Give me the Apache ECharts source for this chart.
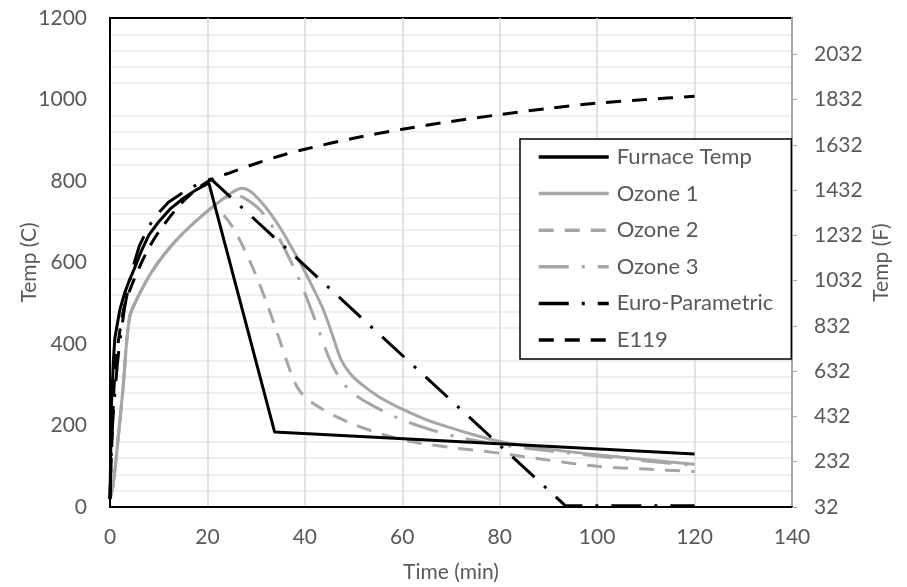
<!DOCTYPE html>
<html>
<head>
<meta charset="utf-8">
<script src="https://cdn.jsdelivr.net/npm/echarts@6/dist/echarts.min.js"></script>
<style>html,body{margin:0;padding:0;background:#fff;}#c{width:907px;height:587px;}</style>
</head>
<body>
<div id="c"></div>
<script>
var seriesNames = ['Furnace Temp', 'Ozone 1', 'Ozone 2', 'Ozone 3', 'Euro-Parametric', 'E119'];
var xTicks = [0, 20, 40, 60, 80, 100, 120, 140];
var leftTicks = [0, 200, 400, 600, 800, 1000, 1200];
var rightTicks = [32, 232, 432, 632, 832, 1032, 1232, 1432, 1632, 1832, 2032];

var furnaceTime = [0, 0.3, 0.7, 1, 2, 3, 4, 5, 6.5, 8, 10, 12.5, 15, 17.5, 20.3, 33.8, 120];
var furnaceTemp = [20, 250, 360, 415, 483, 525, 557, 585, 630, 668, 700, 733, 757, 777, 795, 184, 130];

var ozone1Time = [0, 0.5, 1, 1.7, 2.7, 3.4, 4.1, 5, 6, 7, 8, 10, 12.5, 15, 17.5, 20, 22, 24, 25.5, 27, 28.5, 30, 32, 34, 36, 38, 40, 42, 44, 46, 47.3, 48.5, 50, 52, 55, 60, 65, 70, 75, 80, 90, 100, 110, 120];
var ozone1Temp = [20, 45, 90, 172, 295, 402, 470, 497, 522, 545, 566, 602, 640, 672, 700, 726, 745, 763, 775, 782, 777, 762, 735, 702, 664, 622, 578, 530, 478, 410, 365, 340, 318, 298, 272, 240, 214, 194, 176, 161, 142, 128, 116, 105];

var ozone2Time = [0, 0.5, 1, 1.7, 2.7, 3.4, 4.1, 5, 6, 7, 8, 10, 12.5, 15, 17.5, 20, 21.5, 23.3, 25, 27, 29.8, 32.2, 35.3, 36.5, 37.5, 38.5, 40, 42, 44, 46, 50, 56, 62, 70, 80, 90, 100, 110, 120];
var ozone2Temp = [20, 45, 90, 172, 295, 402, 470, 497, 522, 545, 566, 602, 640, 672, 700, 726, 738, 717, 690, 647, 573, 500, 393, 350, 318, 293, 270, 252, 237, 224, 203, 178, 160, 146, 132, 115, 100, 93, 87];

var ozone3Time = [0, 0.5, 1, 1.7, 2.7, 3.4, 4.1, 5, 6, 7, 8, 10, 12.5, 15, 17.5, 20, 22, 24, 25.5, 27.3, 30, 32, 34, 36, 38, 40, 42, 44, 45, 46, 47.5, 49.5, 52, 55, 58, 61, 66, 72, 80, 90, 100, 110, 120];
var ozone3Temp = [20, 45, 90, 172, 295, 402, 470, 497, 522, 545, 566, 602, 640, 672, 700, 726, 745, 760, 766, 760, 738, 712, 675, 630, 580, 525, 462, 395, 365, 340, 310, 283, 262, 242, 224, 209, 189, 170, 153, 138, 125, 113, 102];

var euroTime = [0, 0.3, 0.6, 1, 1.5, 2, 3, 4, 5, 6, 8, 10, 12, 15, 18, 20.7, 93.5, 120];
var euroTemp = [20, 150, 220, 280, 350, 405, 490, 552, 600, 640, 690, 722, 748, 772, 792, 805, 3, 3];

var e119Time = [0, 1, 2, 3, 5, 7.5, 10, 15, 20, 25, 30, 35, 40, 50, 60, 70, 80, 90, 100, 110, 120];
var e119Temp = [20, 335, 430, 495, 560, 625, 675, 750, 798, 822, 843, 862, 878, 905, 927, 946, 963, 978, 991, 1000, 1008];

function pairs(t, v) { return t.map(function (x, i) { return [x, v[i]]; }); }

var FONT = 'Lato';
var TXT = '#595959';
var GRAY = '#a6a6a6';

var chart = echarts.init(document.getElementById('c'), null, { renderer: 'canvas' });
chart.setOption({
  animation: false,
  backgroundColor: '#fff',
  textStyle: { fontFamily: FONT },
  grid: { left: 110, right: 115, top: 18, bottom: 80, show: true, borderColor: '#000', borderWidth: 2,
    containLabel: false, outerBoundsMode: 'none' },
  legend: {
    data: seriesNames,
    orient: 'vertical',
    left: 520,
    top: 139,
    itemWidth: 70,
    itemHeight: 22,
    itemGap: 14.6,
    padding: [7, 18, 8, 17],
    backgroundColor: '#fff',
    borderColor: '#000',
    borderWidth: 1.5,
    itemStyle: { opacity: 0, borderWidth: 0 },
    lineStyle: { width: 3.5 },
    textStyle: { fontFamily: FONT, fontSize: 22, color: TXT, padding: [0, 0, 0, 3] },
    inactiveColor: '#ccc'
  },
  xAxis: {
    type: 'value', min: 0, max: 140, interval: 20,
    name: 'Time (min)', nameLocation: 'middle', nameGap: 55, nameMoveOverlap: false,
    nameTextStyle: { fontFamily: FONT, fontSize: 21, color: TXT },
    axisLine: { show: true, lineStyle: { color: '#000', width: 2 } },
    axisTick: { show: false },
    axisLabel: { fontFamily: FONT, fontSize: 21, color: TXT, margin: 20,
      formatter: function (v) { return xTicks.indexOf(v) >= 0 ? String(v) : ''; } },
    splitLine: { show: true, lineStyle: { color: '#d9d9d9', width: 1.5 } }
  },
  yAxis: [{
    type: 'value', min: 0, max: 1200, interval: 200, position: 'left',
    name: 'Temp (C)', nameLocation: 'middle', nameGap: 70, nameRotate: 90, nameMoveOverlap: false,
    nameTextStyle: { fontFamily: FONT, fontSize: 21, color: TXT },
    axisLine: { show: true, lineStyle: { color: '#000', width: 2 } },
    axisTick: { show: false },
    minorTick: { show: false, splitNumber: 5 },
    axisLabel: { fontFamily: FONT, fontSize: 21, color: TXT, margin: 23,
      formatter: function (v) { return leftTicks.indexOf(v) >= 0 ? String(v) : ''; } },
    splitLine: { show: false },
    minorSplitLine: { show: true, lineStyle: { color: '#efefef', width: 2 } }
  }, {
    type: 'value', min: 32, max: 2192, interval: 200, position: 'right',
    name: 'Temp (F)', nameLocation: 'middle', nameGap: 79, nameRotate: 90, nameMoveOverlap: false,
    nameTextStyle: { fontFamily: FONT, fontSize: 21, color: TXT },
    axisLine: { show: true, lineStyle: { color: GRAY, width: 2 } },
    axisTick: { show: true, length: 5, lineStyle: { color: GRAY, width: 1 } },
    axisLabel: { fontFamily: FONT, fontSize: 21, color: TXT, margin: 22, showMaxLabel: false,
      formatter: function (v) { return rightTicks.indexOf(v) >= 0 ? String(v) : ''; } },
    splitLine: { show: false }
  }],
  series: [
    { name: 'Ozone 1', type: 'line', data: pairs(ozone1Time, ozone1Temp), symbol: 'none', smooth: 0.3,
      lineStyle: { color: GRAY, width: 3 }, itemStyle: { color: GRAY }, z: 2 },
    { name: 'Ozone 2', type: 'line', data: pairs(ozone2Time, ozone2Temp), symbol: 'none', smooth: 0.3,
      lineStyle: { color: GRAY, width: 3, type: [15, 11] }, itemStyle: { color: GRAY }, z: 2 },
    { name: 'Ozone 3', type: 'line', data: pairs(ozone3Time, ozone3Temp), symbol: 'none', smooth: 0.3,
      lineStyle: { color: GRAY, width: 3, type: [30, 13, 3, 13] }, itemStyle: { color: GRAY }, z: 2 },
    { name: 'Euro-Parametric', type: 'line', data: pairs(euroTime, euroTemp), symbol: 'none',
      lineStyle: { color: '#000', width: 3, type: [30, 13, 3, 13] }, itemStyle: { color: '#000' }, z: 3 },
    { name: 'E119', type: 'line', data: pairs(e119Time, e119Temp), symbol: 'none', smooth: 0.3,
      lineStyle: { color: '#000', width: 3, type: [15, 11] }, itemStyle: { color: '#000' }, z: 3 },
    { name: 'Furnace Temp', type: 'line', data: pairs(furnaceTime, furnaceTemp), symbol: 'none',
      lineStyle: { color: '#000', width: 3 }, itemStyle: { color: '#000' }, z: 4 }
  ]
});
</script>
</body>
</html>
